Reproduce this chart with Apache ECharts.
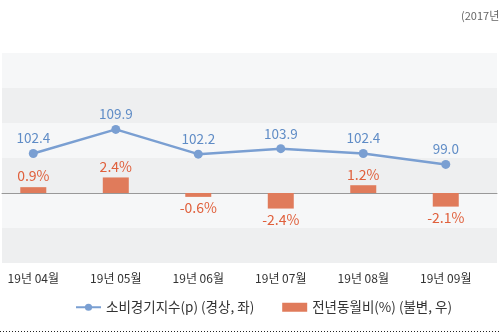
<!DOCTYPE html>
<html><head><meta charset="utf-8">
<script src="https://cdn.jsdelivr.net/npm/echarts@6/dist/echarts.min.js"></script>
<style>html,body{margin:0;padding:0;background:#fff}#c{width:500px;height:333px}</style>
</head><body><div id="c"></div>
<script>
var categories = ['19년 04월','19년 05월','19년 06월','19년 07월','19년 08월','19년 09월'];
var indexValues = [102.4, 109.9, 102.2, 103.9, 102.4, 99.0];
var yoyValues = [0.9, 2.4, -0.6, -2.4, 1.2, -2.1];
var seriesNames = ['소비경기지수(p) (경상, 좌)', '전년동월비(%) (불변, 우)'];
var noteText = '(2017년 =100)';

var FONT = '"Noto Sans CJK KR", "Noto Sans", sans-serif';
var lineColor = '#7a9fd2', barColor = '#e07b5b', barLabelColor = '#e0603c';

var catIdx = categories.map(function (c, i) { return i; });
var lineData = indexValues.map(function (v, i) { return [i, v]; });
var barData = yoyValues.map(function (v, i) {
  return { value: [i, v], label: { position: v >= 0 ? 'top' : 'bottom' } };
});

var chart = echarts.init(document.getElementById('c'), null, { renderer: 'canvas' });
chart.setOption({
  animation: false,
  backgroundColor: '#fff',
  textStyle: { fontFamily: FONT },
  graphic: [
    { type: 'text', left: 461, top: 10, style: { text: noteText, fill: '#666', font: '11px ' + FONT } },
    { type: 'line', shape: { x1: 0, y1: 331.5, x2: 500, y2: 331.5 }, style: { stroke: '#222', lineWidth: 1, lineDash: [1, 2] } }
  ],
  grid: [
    { left: 2, right: 3, top: 53, height: 210 },
    { left: 0, width: 487, top: 53, height: 210 }
  ],
  xAxis: [
    { gridIndex: 0, type: 'value', min: 0, max: 1, axisLine: { show: true, onZero: true, lineStyle: { color: '#999', width: 1 } },
      axisTick: { show: false }, axisLabel: { show: false }, splitLine: { show: false } },
    { gridIndex: 1, type: 'value', min: -0.4036, max: 5.5,
      axisLine: { show: false }, axisTick: { show: false }, splitLine: { show: false },
      axisLabel: { show: true, customValues: catIdx, color: '#333', fontSize: 12, margin: 9, fontFamily: FONT,
        formatter: function (v) { return categories[Math.round(v)] || ''; } } }
  ],
  yAxis: [
    { gridIndex: 0, type: 'value', min: -2, max: 4, interval: 1, axisLine: { show: false }, axisTick: { show: false },
      axisLabel: { show: false }, splitLine: { show: false },
      splitArea: { show: true, areaStyle: { color: ['#eeeff0', '#f6f7f8'] } } },
    { gridIndex: 1, type: 'value', min: 68.3, max: 133.7, show: false, splitLine: { show: false } },
    { gridIndex: 1, type: 'value', min: -10.8, max: 21.6, show: false, splitLine: { show: false } }
  ],
  legend: {
    bottom: 14, left: 70, itemGap: 28, itemWidth: 25, itemHeight: 9,
    textStyle: { color: '#333', fontSize: 13.5, fontFamily: FONT },
    data: [
      { name: seriesNames[0] },
      { name: seriesNames[1], icon: 'rect' }
    ]
  },
  series: [
    { type: 'scatter', xAxisIndex: 0, yAxisIndex: 0, data: [], silent: true },
    { name: seriesNames[1], type: 'bar', xAxisIndex: 1, yAxisIndex: 2, data: barData, barWidth: 26,
      itemStyle: { color: barColor },
      label: { show: true, color: barLabelColor, fontSize: 14, distance: 4, fontFamily: FONT,
        formatter: function (p) { return p.value[1].toFixed(1) + '%'; } } },
    { name: seriesNames[0], type: 'line', xAxisIndex: 1, yAxisIndex: 1, data: lineData, z: 5,
      symbol: 'circle', symbolSize: 9,
      lineStyle: { color: lineColor, width: 2.5 }, itemStyle: { color: lineColor },
      label: { show: true, position: 'top', distance: 4, color: '#5f8cc6', fontSize: 13.5, fontFamily: FONT,
        formatter: function (p) { return p.value[1].toFixed(1); } } }
  ]
});
</script>
</body></html>
